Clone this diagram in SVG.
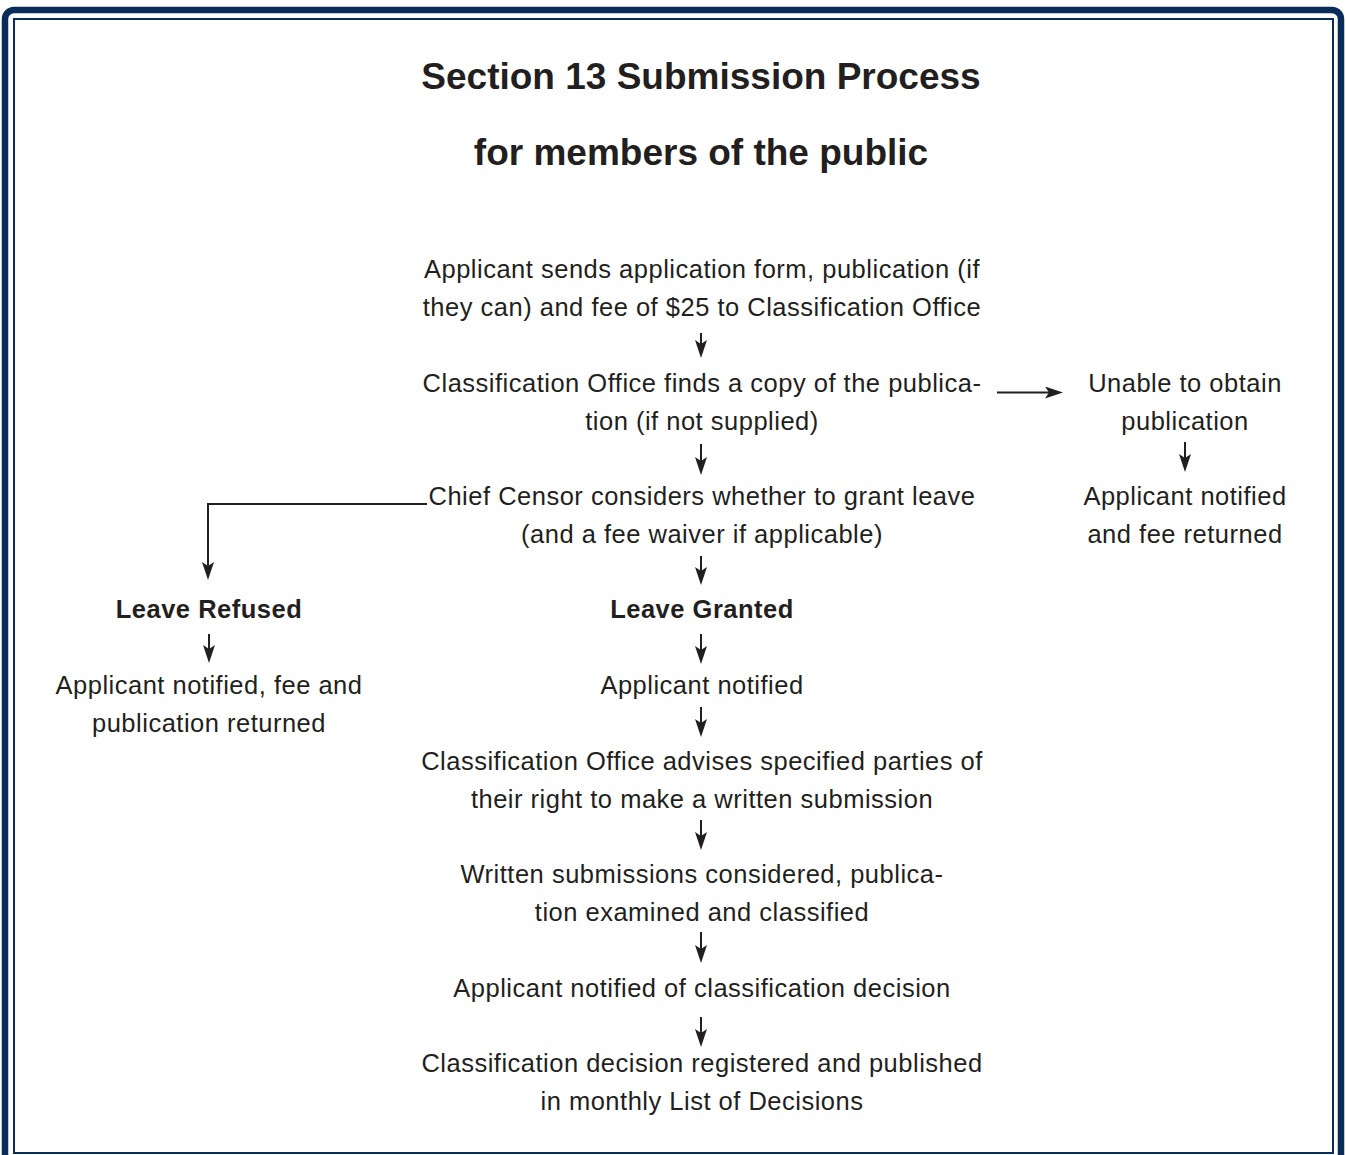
<svg xmlns="http://www.w3.org/2000/svg" width="1346" height="1155" viewBox="0 0 1346 1155">
<style>
.t{font-family:"Liberation Sans",Arial,sans-serif;font-size:25.5px;fill:#231f20;text-anchor:middle;letter-spacing:0.5px}
.b{font-weight:bold}
.h{font-family:"Liberation Sans",Arial,sans-serif;font-size:37px;font-weight:bold;fill:#231f20;text-anchor:middle}
.c{stroke:#231f20;stroke-width:2;fill:none;marker-end:url(#ah)}
</style>
<defs>
<marker id="ah" viewBox="0 0 18 12" refX="6" refY="6" markerWidth="18" markerHeight="12" markerUnits="userSpaceOnUse" orient="auto">
<path d="M0,0 L18,6 L0,12 L4,6 Z" fill="#231f20"/>
</marker>
</defs>
<rect width="1346" height="1155" fill="#fff"/>
<g id="frame">
<rect x="5" y="10" width="1336" height="1165" rx="9" fill="none" stroke="#0a2c5a" stroke-width="6.5"/>
<rect x="14" y="19" width="1319" height="1134" fill="none" stroke="#0a2c5a" stroke-width="2"/>
</g>
<g id="title">
<text class="h" x="701" y="89">Section 13 Submission Process</text>
<text class="h" x="701" y="165">for members of the public</text>
</g>
<g id="n1"><text class="t" x="702" y="278">Applicant sends application form, publication (if</text><text class="t" x="702" y="316">they can) and fee of $25 to Classification Office</text></g>
<g id="n2"><text class="t" x="702" y="392">Classification Office finds a copy of the publica-</text><text class="t" x="702" y="430">tion (if not supplied)</text></g>
<g id="n3"><text class="t" x="1185" y="392">Unable to obtain</text><text class="t" x="1185" y="430">publication</text></g>
<g id="n4"><text class="t" x="1185" y="505">Applicant notified</text><text class="t" x="1185" y="543">and fee returned</text></g>
<g id="n5"><text class="t" x="702" y="505">Chief Censor considers whether to grant leave</text><text class="t" x="702" y="543">(and a fee waiver if applicable)</text></g>
<g id="n6"><text class="t b" x="209" y="618">Leave Refused</text></g>
<g id="n7"><text class="t" x="209" y="694">Applicant notified, fee and</text><text class="t" x="209" y="732">publication returned</text></g>
<g id="n8"><text class="t b" x="702" y="618">Leave Granted</text></g>
<g id="n9"><text class="t" x="702" y="694">Applicant notified</text></g>
<g id="n10"><text class="t" x="702" y="770">Classification Office advises specified parties of</text><text class="t" x="702" y="808">their right to make a written submission</text></g>
<g id="n11"><text class="t" x="702" y="883">Written submissions considered, publica-</text><text class="t" x="702" y="921">tion examined and classified</text></g>
<g id="n12"><text class="t" x="702" y="997">Applicant notified of classification decision</text></g>
<g id="n13"><text class="t" x="702" y="1072">Classification decision registered and published</text><text class="t" x="702" y="1110">in monthly List of Decisions</text></g>
<g id="connectors">
<path class="c" d="M701,333 V346"/>
<path class="c" d="M997,392.5 H1051"/>
<path class="c" d="M1185,442 V460"/>
<path class="c" d="M701,444 V463"/>
<path class="c" d="M427,504 H208 V568"/>
<path class="c" d="M701,556 V573"/>
<path class="c" d="M209,634 V651"/>
<path class="c" d="M701,634 V652"/>
<path class="c" d="M701,707 V725"/>
<path class="c" d="M701,820 V838"/>
<path class="c" d="M701,932 V951"/>
<path class="c" d="M701,1017 V1035"/>
</g>
</svg>
